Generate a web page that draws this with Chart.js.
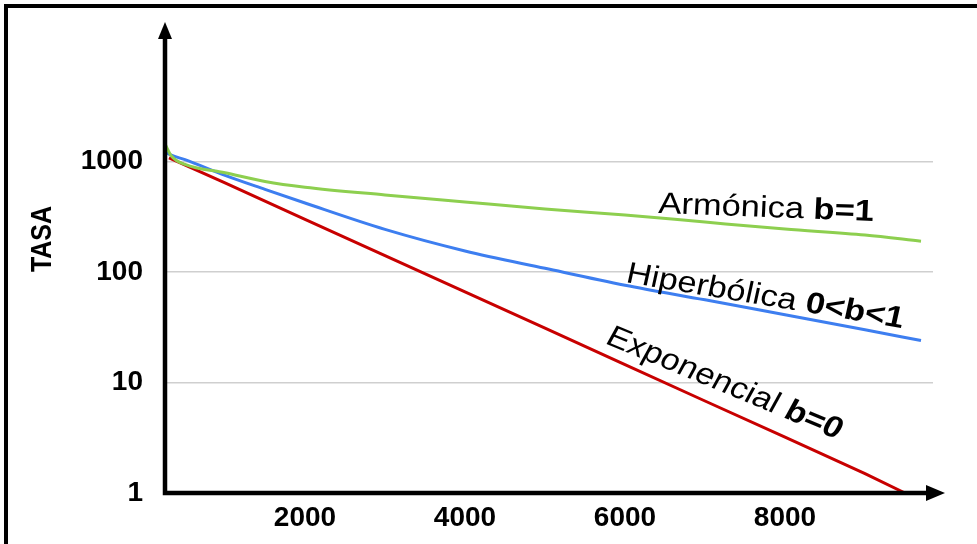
<!DOCTYPE html>
<html>
<head>
<meta charset="UTF-8">
<title>Curvas de declinación</title>
<script src="https://cdn.jsdelivr.net/npm/chart.js@4.4.0/dist/chart.umd.min.js"></script>
<style>
  html, body { margin: 0; padding: 0; background: #fff; }
</style>
</head>
<body>
<canvas id="myChart" width="977" height="544"></canvas>
<script>
// valores (tiempo en x, tasa en escala log)
var xCurved = [250, 330, 500, 1000, 1500, 2000, 3000, 4000, 5000, 6000, 7000, 8000, 9000, 9700];
var armonica = [1440, 1122, 940, 790, 660, 585, 498, 430, 372, 328, 283, 245, 216, 190];
var hiperbolica = [1220, 1140, 1040, 750, 560, 421, 243, 155, 108, 76, 56, 41, 30, 24];
var xExp = [300, 1000, 2000, 3000, 4000, 5000, 6000, 7000, 8000, 9000, 9500];
var exponencial = [1080, 640, 300, 141, 66, 31, 14.5, 6.8, 3.2, 1.5, 1.0];
var xTicks = [2000, 4000, 6000, 8000];
var yTicks = [1, 10, 100, 1000];

var FONT = '"Liberation Sans", Arial, sans-serif';

function toPoints(xs, ys) {
    return xs.map(function (x, i) { return { x: x, y: ys[i] }; });
}

// texto inclinado, con partes normales y en negrita
function slantedText(ctx, x, y, deg, parts) {
    ctx.save();
    ctx.translate(x, y);
    ctx.scale(1.15, 1);
    ctx.rotate(deg * Math.PI / 180);
    ctx.fillStyle = '#000';
    ctx.textBaseline = 'alphabetic';
    var cx = 0;
    parts.forEach(function (p) {
        ctx.font = p[1] + ' 30px ' + FONT;
        ctx.fillText(p[0], cx, 0);
        cx += ctx.measureText(p[0]).width;
    });
    ctx.restore();
}

var decor = {
    id: 'decor',
    beforeDraw: function (chart) {
        var ctx = chart.ctx;
        ctx.save();
        ctx.fillStyle = '#fff';
        ctx.fillRect(0, 0, chart.width, chart.height);
        ctx.strokeStyle = '#000';
        ctx.lineWidth = 4;
        ctx.beginPath();
        ctx.moveTo(6, chart.height);
        ctx.lineTo(6, 6);
        ctx.lineTo(chart.width, 6);
        ctx.stroke();
        ctx.restore();
    },
    afterDraw: function (chart) {
        var ctx = chart.ctx, a = chart.chartArea;
        var xs = chart.scales.x, ys = chart.scales.y;
        ctx.save();
        // ejes con flechas
        ctx.strokeStyle = '#000';
        ctx.fillStyle = '#000';
        ctx.lineWidth = 4.5;
        ctx.beginPath();
        ctx.moveTo(a.left, a.top - 14);
        ctx.lineTo(a.left, a.bottom);
        ctx.lineTo(a.right - 4, a.bottom);
        ctx.stroke();
        ctx.beginPath();
        ctx.moveTo(a.left, a.top - 29);
        ctx.lineTo(a.left - 7, a.top - 12);
        ctx.lineTo(a.left + 7, a.top - 12);
        ctx.closePath();
        ctx.fill();
        ctx.beginPath();
        ctx.moveTo(a.right + 12, a.bottom);
        ctx.lineTo(a.right - 7, a.bottom - 8);
        ctx.lineTo(a.right - 7, a.bottom + 8);
        ctx.closePath();
        ctx.fill();

        // titulo del eje y
        ctx.save();
        ctx.translate(43, 239);
        ctx.scale(1.15, 1);
        ctx.rotate(-Math.PI / 2);
        ctx.font = 'bold 25px ' + FONT;
        ctx.textAlign = 'center';
        ctx.textBaseline = 'middle';
        ctx.fillText('TASA', 0, 0);
        ctx.restore();

        // etiquetas de las curvas
        slantedText(ctx, xs.getPixelForValue(6412), ys.getPixelForValue(342), 2.4,
            [['Armónica ', 'normal'], ['b=1', 'bold']]);
        slantedText(ctx, xs.getPixelForValue(6000), ys.getPixelForValue(81), 10.8,
            [['Hiperbólica ', 'normal'], ['0<b<1', 'bold']]);
        slantedText(ctx, xs.getPixelForValue(5737), ys.getPixelForValue(22.8), 25.5,
            [['Exponencial ', 'normal'], ['b=0', 'bold']]);
        ctx.restore();
    }
};

var tickFont = { family: FONT, size: 28, weight: 'bold' };

new Chart('myChart', {
    type: 'line',
    data: {
        datasets: [
            {
                label: 'Armónica b=1',
                data: toPoints(xCurved, armonica),
                borderColor: '#8dcf4f',
                borderWidth: 3,
                pointRadius: 0,
                cubicInterpolationMode: 'monotone'
            },
            {
                label: 'Hiperbólica 0<b<1',
                data: toPoints(xCurved, hiperbolica),
                borderColor: '#3d7ef0',
                borderWidth: 3,
                pointRadius: 0,
                cubicInterpolationMode: 'monotone'
            },
            {
                label: 'Exponencial b=0',
                data: toPoints(xExp, exponencial),
                borderColor: '#c80000',
                borderWidth: 3,
                pointRadius: 0,
                tension: 0
            }
        ]
    },
    options: {
        responsive: false,
        animation: false,
        layout: { padding: { left: 0, right: 44, top: 51, bottom: 0 } },
        plugins: { legend: { display: false }, tooltip: { enabled: false } },
        scales: {
            x: {
                type: 'linear',
                min: 250,
                max: 9850,
                afterFit: function (s) { s.height = 51; },
                afterBuildTicks: function (s) { s.ticks = xTicks.map(function (v) { return { value: v }; }); },
                grid: { display: false },
                border: { display: false },
                ticks: {
                    color: '#000', font: tickFont, padding: 0, maxRotation: 0, autoSkip: false,
                    callback: function (v) { return String(v); }
                }
            },
            y: {
                type: 'logarithmic',
                min: 1,
                max: 10000,
                afterFit: function (s) { s.width = 165; },
                afterBuildTicks: function (s) { s.ticks = yTicks.map(function (v) { return { value: v }; }); },
                grid: { color: '#cfcfcf', lineWidth: 1.5, drawTicks: false },
                border: { display: false },
                ticks: {
                    color: '#000', font: tickFont, padding: 22, autoSkip: false,
                    callback: function (v) { return String(v); }
                }
            }
        }
    },
    plugins: [decor]
});
</script>
</body>
</html>
